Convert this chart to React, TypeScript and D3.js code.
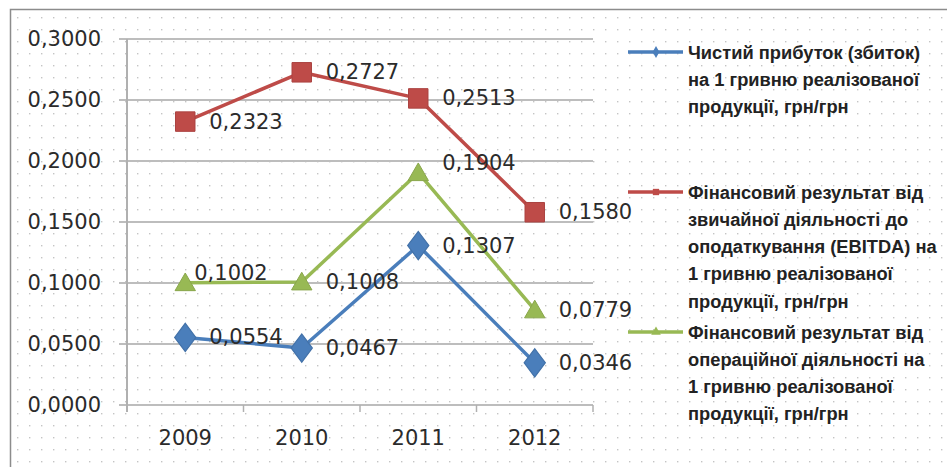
import React, { useEffect, useRef } from 'react';
import * as d3 from 'd3';

const years = ['2009', '2010', '2011', '2012'];
const netProfit = [0.0554, 0.0467, 0.1307, 0.0346];
const ebitda = [0.2323, 0.2727, 0.2513, 0.158];
const operating = [0.1002, 0.1008, 0.1904, 0.0779];
const yTicks = [0, 0.05, 0.1, 0.15, 0.2, 0.25, 0.3];

const legendNet = ['Чистий прибуток (збиток)', 'на 1 гривню реалізованої', 'продукції, грн/грн'];
const legendEbitda = [
  'Фінансовий результат від',
  'звичайної діяльності до',
  'оподаткування (EBITDA) на',
  '1 гривню реалізованої',
  'продукції, грн/грн',
];
const legendOper = [
  'Фінансовий результат від',
  'операційної діяльності на',
  '1 гривню реалізованої',
  'продукції, грн/грн',
];

const W = 947;
const H = 467;

type Series = { key: string; values: number[]; color: string; marker: 'diamond' | 'square' | 'triangle'; legend: string[]; legendY: number };

const SERIES: Series[] = [
  { key: 'net', values: netProfit, color: '#4a7ebb', marker: 'diamond', legend: legendNet, legendY: 52 },
  { key: 'ebitda', values: ebitda, color: '#be4b48', marker: 'square', legend: legendEbitda, legendY: 192 },
  { key: 'oper', values: operating, color: '#98b954', marker: 'triangle', legend: legendOper, legendY: 332 },
];

// labels that were moved by hand in the original
const labelNudge: Record<string, [number, number]> = {
  'oper-0': [-15, -10],
  'oper-2': [0, -10],
};

const App: React.FC = () => {
  const svgRef = useRef<SVGSVGElement>(null);

  useEffect(() => {
    if (!svgRef.current) return;
    const svg = d3.select(svgRef.current);
    svg.selectAll('*').remove();

    const x0 = 127, x1 = 593, yTop = 39, yBot = 405;

    const x = d3.scaleBand().domain(years).range([x0, x1]);
    const y = d3.scaleLinear().domain([0, 0.3]).range([yBot, yTop]);
    const fmt = (v: number) => d3.format('.4f')(v).replace('.', ',');

    const defs = svg.append('defs');
    const pat = defs.append('pattern')
      .attr('id', 'dots')
      .attr('width', 12)
      .attr('height', 12)
      .attr('patternUnits', 'userSpaceOnUse');
    pat.append('rect').attr('x', 5).attr('y', 5).attr('width', 1.4).attr('height', 1.4).attr('fill', '#c4c4c4');

    svg.append('rect').attr('width', W).attr('height', H).attr('fill', '#fff');
    svg.append('rect').attr('x', 10).attr('y', 9).attr('width', W).attr('height', H).attr('fill', 'url(#dots)');
    svg.append('rect').attr('x', 10.5).attr('y', 9.5).attr('width', W).attr('height', H)
      .attr('fill', 'none').attr('stroke', '#8c8c8c').attr('stroke-width', 1.5);

    // gridlines
    svg.append('g').selectAll('line').data(yTicks).join('line')
      .attr('x1', x0 - 8).attr('x2', x1)
      .attr('y1', d => y(d)).attr('y2', d => y(d))
      .attr('stroke', '#bdbdbd').attr('stroke-width', 2);

    // y axis
    svg.append('line').attr('x1', x0).attr('x2', x0).attr('y1', yTop).attr('y2', yBot + 7)
      .attr('stroke', '#b0b0b0').attr('stroke-width', 2);
    // x ticks
    const bounds = [x0, ...years.map(yr => (x(yr) || 0) + x.bandwidth())];
    svg.append('g').selectAll('line').data(bounds).join('line')
      .attr('x1', d => d).attr('x2', d => d).attr('y1', yBot).attr('y2', yBot + 7)
      .attr('stroke', '#b0b0b0').attr('stroke-width', 1.5);

    const font = '"DejaVu Sans", sans-serif';

    svg.append('g').selectAll('text').data(yTicks).join('text')
      .attr('x', 101).attr('y', d => y(d))
      .attr('text-anchor', 'end').attr('dominant-baseline', 'central')
      .attr('font-family', font).attr('font-size', 21).attr('fill', '#2b2b2b')
      .text(d => fmt(d));

    svg.append('g').selectAll('text').data(years).join('text')
      .attr('x', d => (x(d) || 0) + x.bandwidth() / 2).attr('y', 438)
      .attr('text-anchor', 'middle').attr('dominant-baseline', 'central')
      .attr('font-family', font).attr('font-size', 21).attr('fill', '#2b2b2b')
      .text(d => d);

    const cx = (i: number) => (x(years[i]) || 0) + x.bandwidth() / 2;
    const line = d3.line<number>().x((_, i) => cx(i)).y(d => y(d));

    const symbolFor = (m: Series['marker'], big: boolean) => {
      const type = m === 'diamond' ? d3.symbolDiamond : m === 'square' ? d3.symbolSquare : d3.symbolTriangle;
      const size = big ? (m === 'square' ? 380 : m === 'diamond' ? 230 : 180) : 40;
      return d3.symbol().type(type).size(size)();
    };

    const drawOrder = ['ebitda', 'oper', 'net'];
    drawOrder.forEach(k => {
      const s = SERIES.find(ss => ss.key === k)!;
      const g = svg.append('g');
      g.append('path').attr('d', line(s.values)).attr('fill', 'none')
        .attr('stroke', s.color).attr('stroke-width', 3.5).attr('stroke-linejoin', 'round');
      g.selectAll('path.m').data(s.values).join('path').attr('class', 'm')
        .attr('d', symbolFor(s.marker, true))
        .attr('transform', (d, i) => `translate(${cx(i)},${y(d) + (s.marker === 'triangle' ? 2 : 0)})${s.marker === 'diamond' ? ' scale(1.3,1)' : ''}`)
        .attr('fill', s.color).attr('stroke', d3.color(s.color)!.darker(0.3).toString()).attr('stroke-width', 1);
    });

    SERIES.forEach(s => {
      svg.append('g').selectAll('text').data(s.values).join('text')
        .attr('x', (d, i) => cx(i) + 24 + (labelNudge[`${s.key}-${i}`]?.[0] || 0))
        .attr('y', (d, i) => y(d) + (labelNudge[`${s.key}-${i}`]?.[1] || 0))
        .attr('dominant-baseline', 'central')
        .attr('font-family', font).attr('font-size', 21).attr('fill', '#2b2b2b')
        .text(d => fmt(d));
    });

    // legend
    SERIES.forEach(s => {
      const g = svg.append('g');
      g.append('line').attr('x1', 628).attr('x2', 683).attr('y1', s.legendY).attr('y2', s.legendY)
        .attr('stroke', s.color).attr('stroke-width', 3.5);
      g.append('path').attr('d', symbolFor(s.marker, false))
        .attr('transform', `translate(656,${s.legendY})`).attr('fill', s.color);
      g.selectAll('text').data(s.legend).join('text')
        .attr('x', 688).attr('y', (d, i) => s.legendY + i * 27.3)
        .attr('dominant-baseline', 'central')
        .attr('font-family', '"Liberation Sans", sans-serif').attr('font-weight', 'bold')
        .attr('font-size', 18.3).attr('fill', '#222')
        .text(d => d);
    });
  }, []);

  return (
    <div style={{ position: 'fixed', left: 0, top: 0, width: W, height: H }}>
      <svg ref={svgRef} width={W} height={H} style={{ display: 'block' }} />
    </div>
  );
};

export default App;
